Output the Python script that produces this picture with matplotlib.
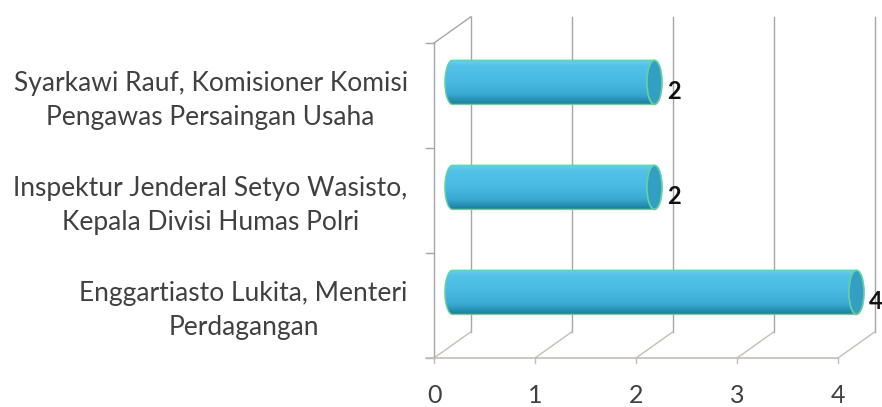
import numpy as np
import matplotlib
matplotlib.use("Agg")
import matplotlib.pyplot as plt
from matplotlib.patches import Ellipse, PathPatch
from matplotlib.path import Path
from matplotlib.colors import LinearSegmentedColormap

# data (bottom to top)
labels = [
    "Enggartiasto Lukita, Menteri\nPerdagangan",
    "Inspektur Jenderal Setyo Wasisto,\nKepala Divisi Humas Polri",
    "Syarkawi Rauf, Komisioner Komisi\nPengawas Persaingan Usaha",
]
values = [4, 2, 2]
xticks = [0, 1, 2, 3, 4]

plt.rcParams["font.family"] = ["Lato", "DejaVu Sans"]

fig = plt.figure(figsize=(8.82, 4.07), dpi=100)
# front plane of the 3d box
ax = fig.add_axes([434 / 882, 49 / 407, 404 / 882, 315 / 407])
ax.set_axis_off()

n = len(labels)
DX, DY = 0.366, 0.25          # depth offset (front -> back)
MX, MY = DX / 2, DY / 2        # bars sit at mid depth
grid_c = "#a6a6a6"
floor_c = "#c4bfb5"

# back wall gridlines
for k in xticks:
    ax.plot([k + DX, k + DX], [DY, n + DY], color=grid_c, lw=1, clip_on=False)
    # floor diagonals
    ax.plot([k, k + DX], [0, DY], color=floor_c, lw=1, clip_on=False)
    # x ticks
    ax.plot([k, k], [0, -0.05], color=floor_c, lw=1, clip_on=False)
    ax.text(k, -0.36, str(k), ha="center", va="center", fontsize=18,
            color="#404040")

# left wall
ax.plot([0, 0], [0, n], color=grid_c, lw=1, clip_on=False)
ax.plot([0, DX], [n, n + DY], color=grid_c, lw=1, clip_on=False)
for j in range(n + 1):
    ax.plot([-0.08, 0], [j, j], color=grid_c, lw=1, clip_on=False)
# floor front line
ax.plot([-0.08, xticks[-1]], [0, 0], color=floor_c, lw=1.2, clip_on=False)

cmap = LinearSegmentedColormap.from_list("cyl", [
    (0.0, "#1a7f9f"), (0.08, "#2590b3"), (0.22, "#3aaad2"),
    (0.5, "#48bae2"), (0.85, "#52c2e8"), (0.95, "#66cbea"), (1.0, "#62c9e0"),
])
grad = np.linspace(0, 1, 100).reshape(-1, 1)

h = 0.21      # half-height of cylinder
rx = 0.075    # ellipse half-width of caps
t = np.linspace(np.pi / 2, 3 * np.pi / 2, 40)

for i, (lab, v) in enumerate(zip(labels, values)):
    cy = i + 0.5 + MY
    x0, x1 = MX, v + MX
    # body outline: left half ellipse + rectangle up to right cap centre
    left = np.column_stack([x0 + rx * np.cos(t), cy + h * np.sin(t)])
    verts = np.vstack([[[x1, cy + h]], left, [[x1, cy - h]], [[x1, cy + h]]])
    body = Path(verts, closed=True)
    im = ax.imshow(grad, cmap=cmap, origin="lower", aspect="auto",
                   extent=[x0 - rx, x1, cy - h, cy + h], zorder=3,
                   interpolation="bilinear")
    patch = PathPatch(body, facecolor="none", edgecolor="#63d3a0", lw=1.0,
                      zorder=4, clip_on=False)
    ax.add_patch(patch)
    im.set_clip_path(patch)
    im.set_clip_box(fig.bbox)
    cap = Ellipse((x1, cy), 2 * rx, 2 * h, facecolor="#349fc2",
                  edgecolor="#63d3a0", lw=1.2, zorder=5, clip_on=False)
    ax.add_patch(cap)
    ax.text(x1 + rx + 0.05, cy - 0.09, str(v), ha="left", va="center",
            fontsize=17, fontweight="bold", color="#111111", zorder=6,
            clip_on=False)
    # category label
    ax.text(-0.26, i + 0.45, lab, ha="right", va="center", multialignment="center",
            fontsize=19, color="#404040", linespacing=1.45)

ax.set_xlim(0, xticks[-1])
ax.set_ylim(0, n)

fig.savefig("out.png", dpi=100)
